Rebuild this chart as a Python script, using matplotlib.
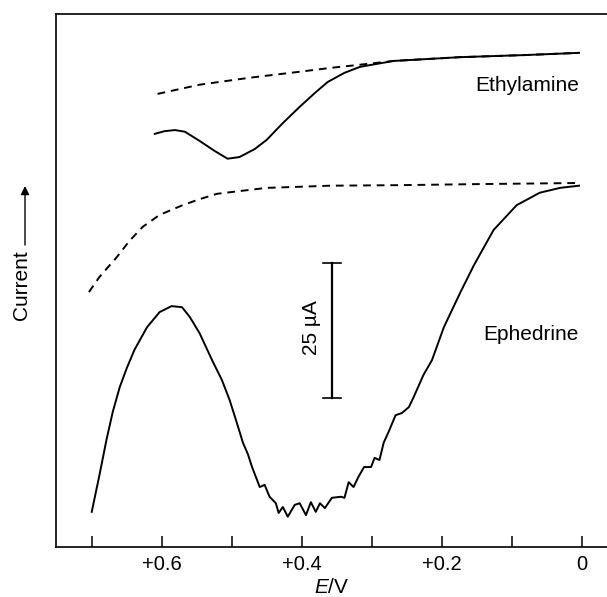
import matplotlib
matplotlib.use("Agg")
import matplotlib.pyplot as plt

plt.rcParams['font.family'] = ['Liberation Sans', 'DejaVu Sans']
plt.rcParams['mathtext.fontset'] = 'custom'
plt.rcParams['mathtext.it'] = 'Liberation Sans:italic'
plt.rcParams['mathtext.rm'] = 'Liberation Sans'

# ephedrine, measured (solid) and blank (dashed)
eph_E = [0.700, 0.689, 0.679, 0.670, 0.660, 0.650, 0.639, 0.621, 0.603, 0.586,
         0.571, 0.560, 0.546, 0.527, 0.514, 0.503, 0.493, 0.484, 0.477, 0.471,
         0.460, 0.453, 0.446, 0.437, 0.433, 0.427, 0.420, 0.410, 0.403, 0.394,
         0.387, 0.380, 0.374, 0.367, 0.357, 0.344, 0.339, 0.333, 0.326, 0.319,
         0.311, 0.301, 0.296, 0.289, 0.283, 0.276, 0.266, 0.257, 0.247, 0.240,
         0.226, 0.214, 0.197, 0.174, 0.154, 0.126, 0.093, 0.060, 0.031, 0.004]
eph_I = [6.5, 13.3, 19.8, 25.0, 29.6, 33.1, 36.5, 40.7, 43.5, 44.6,
         44.4, 42.6, 39.6, 34.3, 30.9, 27.2, 23.1, 19.3, 17.2, 14.8,
         11.1, 11.5, 9.3, 8.1, 6.3, 7.4, 5.6, 7.8, 8.1, 5.9,
         8.3, 6.5, 8.1, 7.2, 9.1, 9.3, 9.1, 12.0, 11.1, 13.0,
         14.8, 14.8, 16.5, 16.1, 19.3, 21.3, 24.4, 24.8, 25.9, 27.8,
         31.9, 34.6, 40.7, 47.0, 52.2, 58.7, 63.3, 65.6, 66.5, 66.9]
eph_blank_E = [0.704, 0.689, 0.664, 0.646, 0.627, 0.603, 0.570, 0.546, 0.521,
               0.489, 0.450, 0.403, 0.360, 0.260, 0.146, 0.004]
eph_blank_I = [47.2, 50.0, 53.7, 56.7, 59.3, 61.5, 63.3, 64.4, 65.4,
               65.9, 66.5, 66.7, 66.9, 67.0, 67.2, 67.4]

# ethylamine, measured (solid) and blank (dashed)
eth_E = [0.610, 0.596, 0.581, 0.567, 0.546, 0.524, 0.506, 0.489, 0.467, 0.450,
         0.427, 0.403, 0.381, 0.363, 0.339, 0.317, 0.269, 0.174, 0.079, 0.004]
eth_I = [76.5, 77.0, 77.2, 76.9, 75.2, 73.3, 71.9, 72.2, 73.7, 75.4,
         78.5, 81.5, 84.1, 86.1, 87.8, 88.9, 90.0, 90.7, 91.1, 91.5]
eth_blank_E = [0.606, 0.546, 0.474, 0.403, 0.360, 0.317, 0.269, 0.174, 0.079, 0.004]
eth_blank_I = [83.9, 85.6, 86.9, 88.0, 88.7, 89.3, 90.0, 90.7, 91.1, 91.5]

tick_pos = [0.7, 0.6, 0.5, 0.4, 0.3, 0.2, 0.1, 0.0]
tick_lab = ['', '+0.6', '', '+0.4', '', '+0.2', '', '0']

bar_E = 0.357
bar_lo, bar_hi = 27.6, 52.6   # 25 uA

fig = plt.figure(figsize=(6.07, 5.97), dpi=100)
ax = fig.add_axes([0.0923, 0.0838, 0.9077, 0.8928])

lw = 1.4
ax.plot(eph_E, eph_I, color='black', lw=lw)
ax.plot(eph_blank_E, eph_blank_I, color='black', lw=lw, ls=(0, (4, 3)))
ax.plot(eth_E, eth_I, color='black', lw=lw)
ax.plot(eth_blank_E, eth_blank_I, color='black', lw=lw, ls=(0, (4, 3)))

# scale bar
ax.plot([bar_E, bar_E], [bar_lo, bar_hi], color='black', lw=1.6)
ax.plot([bar_E + 0.013, bar_E - 0.013], [bar_lo, bar_lo], color='black', lw=1.2)
ax.plot([bar_E + 0.013, bar_E - 0.013], [bar_hi, bar_hi], color='black', lw=1.2)
ax.text(0.386, 40.6, '25 µA', rotation=90, ha='center', va='center', fontsize=15)

ax.text(0.004, 85.4, 'Ethylamine', ha='right', va='center', fontsize=15)
ax.text(0.004, 39.3, 'Ephedrine', ha='right', va='center', fontsize=15)

ax.set_xlim(0.751, -0.036)
ax.set_ylim(0, 98.7)
ax.set_xticks(tick_pos)
ax.set_xticklabels(tick_lab, fontsize=14.5)
ax.tick_params(axis='x', direction='in', length=8, width=1.1, pad=6)
ax.set_yticks([])
ax.spines['right'].set_visible(False)
for s in ['left', 'bottom', 'top']:
    ax.spines[s].set_linewidth(1.2)
ax.set_xlabel('$E$/V', fontsize=15, labelpad=3)

fig.text(0.036, 0.5226, 'Current', rotation=90, ha='center', va='center', fontsize=15)
fig.add_artist(matplotlib.patches.FancyArrowPatch(
    (0.0412, 0.5896), (0.0412, 0.6884), transform=fig.transFigure,
    arrowstyle='-|>,head_length=5,head_width=2.5', color='black', lw=1.0,
    shrinkA=0, shrinkB=0))

fig.savefig('out.png', dpi=100)
